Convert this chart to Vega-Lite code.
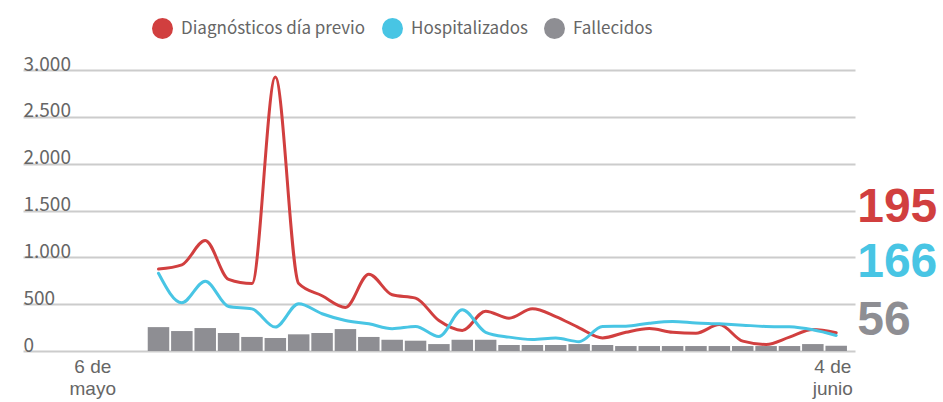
{
  "$schema": "https://vega.github.io/schema/vega-lite/v6.json",
  "autosize": {"type": "none"},
  "padding": {"left": 23, "top": 70, "right": 88, "bottom": 51},
  "width": 832,
  "height": 281,
  "background": "white",
  "config": {"view": {"stroke": null}, "font": "Noto Sans CJK SC"},
  "datasets": {
    "serie": [
      {"fecha": "2020-05-06", "serie": "Diagnósticos día previo", "valor": 875},
      {"fecha": "2020-05-07", "serie": "Diagnósticos día previo", "valor": 920},
      {"fecha": "2020-05-08", "serie": "Diagnósticos día previo", "valor": 1180},
      {"fecha": "2020-05-09", "serie": "Diagnósticos día previo", "valor": 765},
      {"fecha": "2020-05-10", "serie": "Diagnósticos día previo", "valor": 720},
      {"fecha": "2020-05-11", "serie": "Diagnósticos día previo", "valor": 2925},
      {"fecha": "2020-05-12", "serie": "Diagnósticos día previo", "valor": 720},
      {"fecha": "2020-05-13", "serie": "Diagnósticos día previo", "valor": 590},
      {"fecha": "2020-05-14", "serie": "Diagnósticos día previo", "valor": 465},
      {"fecha": "2020-05-15", "serie": "Diagnósticos día previo", "valor": 820},
      {"fecha": "2020-05-16", "serie": "Diagnósticos día previo", "valor": 600},
      {"fecha": "2020-05-17", "serie": "Diagnósticos día previo", "valor": 565},
      {"fecha": "2020-05-18", "serie": "Diagnósticos día previo", "valor": 325},
      {"fecha": "2020-05-19", "serie": "Diagnósticos día previo", "valor": 220},
      {"fecha": "2020-05-20", "serie": "Diagnósticos día previo", "valor": 425},
      {"fecha": "2020-05-21", "serie": "Diagnósticos día previo", "valor": 350},
      {"fecha": "2020-05-22", "serie": "Diagnósticos día previo", "valor": 450},
      {"fecha": "2020-05-23", "serie": "Diagnósticos día previo", "valor": 368},
      {"fecha": "2020-05-24", "serie": "Diagnósticos día previo", "valor": 248},
      {"fecha": "2020-05-25", "serie": "Diagnósticos día previo", "valor": 140},
      {"fecha": "2020-05-26", "serie": "Diagnósticos día previo", "valor": 200},
      {"fecha": "2020-05-27", "serie": "Diagnósticos día previo", "valor": 240},
      {"fecha": "2020-05-28", "serie": "Diagnósticos día previo", "valor": 200},
      {"fecha": "2020-05-29", "serie": "Diagnósticos día previo", "valor": 190},
      {"fecha": "2020-05-30", "serie": "Diagnósticos día previo", "valor": 283},
      {"fecha": "2020-05-31", "serie": "Diagnósticos día previo", "valor": 105},
      {"fecha": "2020-06-01", "serie": "Diagnósticos día previo", "valor": 70},
      {"fecha": "2020-06-02", "serie": "Diagnósticos día previo", "valor": 148},
      {"fecha": "2020-06-03", "serie": "Diagnósticos día previo", "valor": 230},
      {"fecha": "2020-06-04", "serie": "Diagnósticos día previo", "valor": 195},
      {"fecha": "2020-05-06", "serie": "Hospitalizados", "valor": 830},
      {"fecha": "2020-05-07", "serie": "Hospitalizados", "valor": 515},
      {"fecha": "2020-05-08", "serie": "Hospitalizados", "valor": 745},
      {"fecha": "2020-05-09", "serie": "Hospitalizados", "valor": 475},
      {"fecha": "2020-05-10", "serie": "Hospitalizados", "valor": 450},
      {"fecha": "2020-05-11", "serie": "Hospitalizados", "valor": 255},
      {"fecha": "2020-05-12", "serie": "Hospitalizados", "valor": 505},
      {"fecha": "2020-05-13", "serie": "Hospitalizados", "valor": 398},
      {"fecha": "2020-05-14", "serie": "Hospitalizados", "valor": 325},
      {"fecha": "2020-05-15", "serie": "Hospitalizados", "valor": 290},
      {"fecha": "2020-05-16", "serie": "Hospitalizados", "valor": 238},
      {"fecha": "2020-05-17", "serie": "Hospitalizados", "valor": 262},
      {"fecha": "2020-05-18", "serie": "Hospitalizados", "valor": 155},
      {"fecha": "2020-05-19", "serie": "Hospitalizados", "valor": 440},
      {"fecha": "2020-05-20", "serie": "Hospitalizados", "valor": 200},
      {"fecha": "2020-05-21", "serie": "Hospitalizados", "valor": 148},
      {"fecha": "2020-05-22", "serie": "Hospitalizados", "valor": 123},
      {"fecha": "2020-05-23", "serie": "Hospitalizados", "valor": 138},
      {"fecha": "2020-05-24", "serie": "Hospitalizados", "valor": 100},
      {"fecha": "2020-05-25", "serie": "Hospitalizados", "valor": 262},
      {"fecha": "2020-05-26", "serie": "Hospitalizados", "valor": 265},
      {"fecha": "2020-05-27", "serie": "Hospitalizados", "valor": 297},
      {"fecha": "2020-05-28", "serie": "Hospitalizados", "valor": 315},
      {"fecha": "2020-05-29", "serie": "Hospitalizados", "valor": 300},
      {"fecha": "2020-05-30", "serie": "Hospitalizados", "valor": 290},
      {"fecha": "2020-05-31", "serie": "Hospitalizados", "valor": 276},
      {"fecha": "2020-06-01", "serie": "Hospitalizados", "valor": 262},
      {"fecha": "2020-06-02", "serie": "Hospitalizados", "valor": 258},
      {"fecha": "2020-06-03", "serie": "Hospitalizados", "valor": 226},
      {"fecha": "2020-06-04", "serie": "Hospitalizados", "valor": 166},
      {"fecha": "2020-05-06", "serie": "Fallecidos", "valor": 255},
      {"fecha": "2020-05-07", "serie": "Fallecidos", "valor": 213},
      {"fecha": "2020-05-08", "serie": "Fallecidos", "valor": 245},
      {"fecha": "2020-05-09", "serie": "Fallecidos", "valor": 192},
      {"fecha": "2020-05-10", "serie": "Fallecidos", "valor": 150},
      {"fecha": "2020-05-11", "serie": "Fallecidos", "valor": 138},
      {"fecha": "2020-05-12", "serie": "Fallecidos", "valor": 178},
      {"fecha": "2020-05-13", "serie": "Fallecidos", "valor": 192},
      {"fecha": "2020-05-14", "serie": "Fallecidos", "valor": 234},
      {"fecha": "2020-05-15", "serie": "Fallecidos", "valor": 150},
      {"fecha": "2020-05-16", "serie": "Fallecidos", "valor": 120},
      {"fecha": "2020-05-17", "serie": "Fallecidos", "valor": 110},
      {"fecha": "2020-05-18", "serie": "Fallecidos", "valor": 74},
      {"fecha": "2020-05-19", "serie": "Fallecidos", "valor": 120},
      {"fecha": "2020-05-20", "serie": "Fallecidos", "valor": 120},
      {"fecha": "2020-05-21", "serie": "Fallecidos", "valor": 64},
      {"fecha": "2020-05-22", "serie": "Fallecidos", "valor": 64},
      {"fecha": "2020-05-23", "serie": "Fallecidos", "valor": 64},
      {"fecha": "2020-05-24", "serie": "Fallecidos", "valor": 74},
      {"fecha": "2020-05-25", "serie": "Fallecidos", "valor": 64},
      {"fecha": "2020-05-26", "serie": "Fallecidos", "valor": 53},
      {"fecha": "2020-05-27", "serie": "Fallecidos", "valor": 53},
      {"fecha": "2020-05-28", "serie": "Fallecidos", "valor": 53},
      {"fecha": "2020-05-29", "serie": "Fallecidos", "valor": 53},
      {"fecha": "2020-05-30", "serie": "Fallecidos", "valor": 53},
      {"fecha": "2020-05-31", "serie": "Fallecidos", "valor": 53},
      {"fecha": "2020-06-01", "serie": "Fallecidos", "valor": 53},
      {"fecha": "2020-06-02", "serie": "Fallecidos", "valor": 53},
      {"fecha": "2020-06-03", "serie": "Fallecidos", "valor": 74},
      {"fecha": "2020-06-04", "serie": "Fallecidos", "valor": 56}
    ]
  },
  "data": {"name": "serie", "format": {"parse": {"fecha": "date"}}},
  "encoding": {
    "x": {
      "field": "fecha",
      "type": "temporal",
      "scale": {
        "type": "utc",
        "domain": [
          {"year": 2020, "month": 4, "date": 30, "hours": 10, "utc": true},
          {"year": 2020, "month": 6, "date": 4, "hours": 14, "minutes": 10, "utc": true}
        ]
      },
      "axis": {
        "title": null,
        "values": [
          {"year": 2020, "month": 5, "date": 3, "hours": 4, "utc": true},
          {"year": 2020, "month": 6, "date": 3, "hours": 20, "utc": true}
        ],
        "labelExpr": "datum.index == 0 ? ['6 de', 'mayo'] : ['4 de', 'junio']",
        "grid": false,
        "domain": false,
        "ticks": false,
        "tickSize": 0,
        "labelPadding": 6,
        "labelFont": "Liberation Sans",
        "labelFontSize": 19,
        "labelColor": "#666666",
        "labelLineHeight": 22,
        "labelBaseline": "top",
        "labelFlush": false,
        "labelOverlap": false,
        "labelBound": false
      }
    },
    "y": {
      "field": "valor",
      "type": "quantitative",
      "scale": {"domain": [0, 3000], "nice": false},
      "axis": {
        "title": null,
        "values": [0, 500, 1000, 1500, 2000, 2500, 3000],
        "grid": true,
        "gridColor": "#cccccc",
        "gridWidth": 2,
        "domain": false,
        "ticks": false,
        "tickSize": 0,
        "labelAlign": "left",
        "labelBaseline": "alphabetic",
        "labelPadding": 0,
        "labelDx": 1,
        "labelDy": -4,
        "labelFont": "Noto Sans CJK SC",
        "labelFontSize": 19,
        "labelColor": "#666666",
        "labelExpr": "replace(format(datum.value, ','), ',', '.')"
      }
    }
  },
  "layer": [
    {
      "transform": [{"filter": "datum.serie == 'Fallecidos'"}],
      "mark": {"type": "bar", "width": 21.5},
      "encoding": {
        "color": {
          "field": "serie",
          "type": "nominal",
          "scale": {
            "domain": ["Diagnósticos día previo", "Hospitalizados", "Fallecidos"],
            "range": ["#d13f3f", "#48c5e4", "#8e8e93"]
          },
          "legend": {
            "title": null,
            "orient": "none",
            "legendX": 129,
            "legendY": -52,
            "direction": "horizontal",
            "columns": 3,
            "symbolType": "circle",
            "symbolSize": 441,
            "symbolStrokeWidth": 0,
            "labelFont": "Noto Sans CJK SC",
            "labelFontSize": 17,
            "labelColor": "#666666",
            "labelOffset": 8,
            "columnPadding": 16,
            "labelLimit": 400,
            "encode": {"symbols": {"update": {"fill": {"scale": "color", "field": "value"}, "fillOpacity": {"value": 1}, "opacity": {"value": 1}}}}
          }
        }
      }
    },
    {
      "transform": [{"filter": "datum.serie != 'Fallecidos'"}],
      "mark": {"type": "line", "interpolate": "monotone", "strokeWidth": 3, "strokeCap": "round", "strokeJoin": "round"},
      "encoding": {
        "color": {"field": "serie", "type": "nominal"},
        "order": {"field": "fecha", "type": "temporal"}
      }
    },
    {
      "transform": [{"filter": "datum.serie == 'Diagnósticos día previo' && time(datum.fecha) == utc(2020, 5, 4)"}],
      "mark": {"type": "text", "align": "left", "baseline": "alphabetic", "dx": 21, "font": "Liberation Sans", "fontWeight": "bold", "fontSize": 48, "color": "#d13f3f"},
      "encoding": {
        "x": {"datum": {"year": 2020, "month": 6, "date": 4, "utc": true}, "type": "temporal"},
        "y": {"datum": 1378, "type": "quantitative"},
        "text": {"field": "valor", "type": "quantitative"}
      }
    },
    {
      "transform": [{"filter": "datum.serie == 'Hospitalizados' && time(datum.fecha) == utc(2020, 5, 4)"}],
      "mark": {"type": "text", "align": "left", "baseline": "alphabetic", "dx": 21, "font": "Liberation Sans", "fontWeight": "bold", "fontSize": 48, "color": "#48c5e4"},
      "encoding": {
        "x": {"datum": {"year": 2020, "month": 6, "date": 4, "utc": true}, "type": "temporal"},
        "y": {"datum": 790, "type": "quantitative"},
        "text": {"field": "valor", "type": "quantitative"}
      }
    },
    {
      "transform": [{"filter": "datum.serie == 'Fallecidos' && time(datum.fecha) == utc(2020, 5, 4)"}],
      "mark": {"type": "text", "align": "left", "baseline": "alphabetic", "dx": 21, "font": "Liberation Sans", "fontWeight": "bold", "fontSize": 48, "color": "#8e8e93"},
      "encoding": {
        "x": {"datum": {"year": 2020, "month": 6, "date": 4, "utc": true}, "type": "temporal"},
        "y": {"datum": 171, "type": "quantitative"},
        "text": {"field": "valor", "type": "quantitative"}
      }
    }
  ]
}
